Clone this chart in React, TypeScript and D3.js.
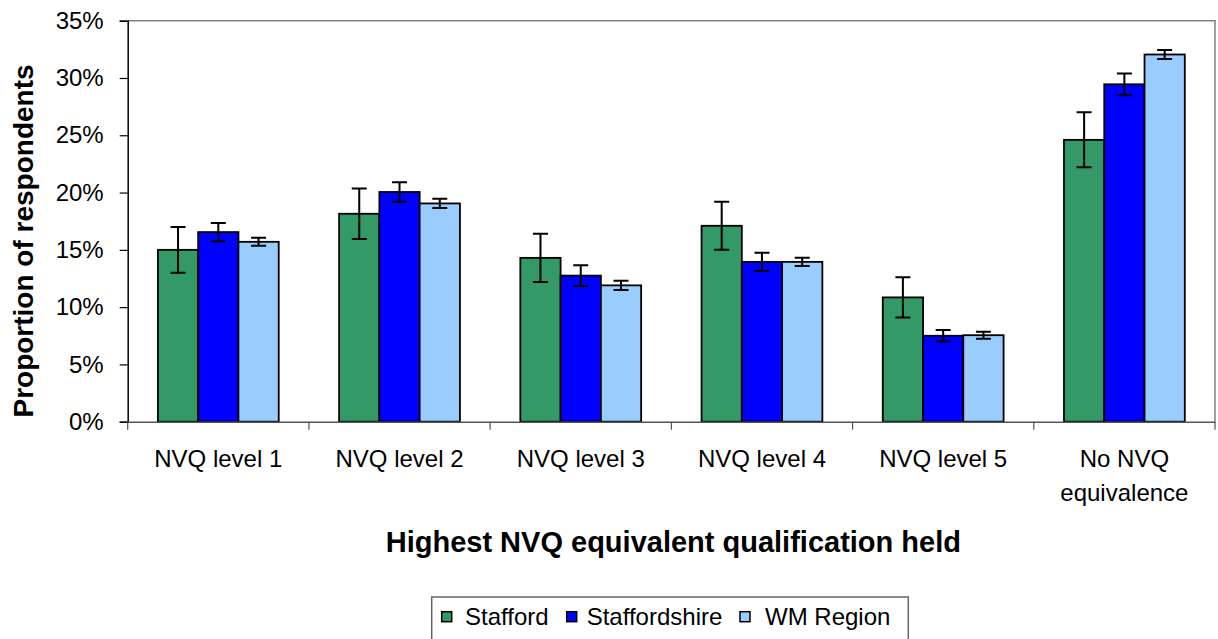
import { useEffect, useRef } from "react";
import * as d3 from "d3";

const categories = ["NVQ level 1", "NVQ level 2", "NVQ level 3", "NVQ level 4", "NVQ level 5", "No NVQ|equivalence"];
const seriesNames = ["Stafford", "Staffordshire", "WM Region"];
const seriesColors = ["#339966", "#0000FF", "#99CCFF"];

const stafford = [15.0, 18.15, 14.3, 17.1, 10.85, 24.6];
const staffordshire = [16.55, 20.05, 12.75, 13.95, 7.5, 29.45];
const wmRegion = [15.7, 19.05, 11.9, 13.95, 7.55, 32.05];

const staffordErr = [2.0, 2.2, 2.1, 2.1, 1.75, 2.4];
const staffordshireErr = [0.8, 0.85, 0.9, 0.8, 0.5, 0.95];
const wmRegionErr = [0.35, 0.4, 0.4, 0.35, 0.3, 0.4];

const yTicks = [0, 5, 10, 15, 20, 25, 30, 35];

const values = [stafford, staffordshire, wmRegion];
const errors = [staffordErr, staffordshireErr, wmRegionErr];

export default function App() {
  const ref = useRef<SVGSVGElement>(null);

  useEffect(() => {
    const svg = d3.select(ref.current);
    svg.selectAll("*").remove();

    const left = 127.7, right = 1215, top = 20.7, bottom = 421.7;
    const font = "Arial, 'Liberation Sans', sans-serif";

    const y = d3.scaleLinear().domain([0, 35]).range([bottom, top]);
    const x0 = d3.scaleBand().domain(categories).range([left, right]).padding(0);
    const bw = x0.bandwidth() / 4.5;
    const x1 = d3.scaleBand().domain(seriesNames).range([0, bw * 3]).padding(0);

    // plot border (top / right)
    svg.append("path")
      .attr("d", `M${left},${top}H${right}V${bottom}`)
      .attr("fill", "none")
      .attr("stroke", "#808080")
      .attr("stroke-width", 1.5);

    // bars
    const data = categories.flatMap((c, ci) =>
      seriesNames.map((s, si) => ({ c, s, si, v: values[si][ci], e: errors[si][ci] }))
    );

    svg.append("g").selectAll("rect")
      .data(data)
      .join("rect")
      .attr("x", d => x0(d.c)! + bw * 0.75 + x1(d.s)!)
      .attr("y", d => y(d.v))
      .attr("width", x1.bandwidth())
      .attr("height", d => y(0) - y(d.v))
      .attr("fill", d => seriesColors[d.si])
      .attr("stroke", "#000")
      .attr("stroke-width", 1.8);

    // error bars
    const cap = 7.5;
    const eb = svg.append("g").attr("stroke", "#000").attr("stroke-width", 2).attr("fill", "none");
    data.forEach(d => {
      const cx = x0(d.c)! + bw * 0.75 + x1(d.s)! + x1.bandwidth() / 2;
      const y1 = y(d.v + d.e), y2 = y(d.v - d.e);
      eb.append("path").attr("d", `M${cx},${y1}V${y2}M${cx - cap},${y1}H${cx + cap}M${cx - cap},${y2}H${cx + cap}`);
    });

    // y axis
    const ya = svg.append("g").attr("transform", `translate(${left},0)`)
      .call(d3.axisLeft(y).tickValues(yTicks).tickSize(8).tickPadding(16).tickFormat(d => `${d}%`));
    ya.select(".domain").attr("stroke", "#000").attr("stroke-width", 1.5);
    ya.selectAll(".tick line").attr("stroke", "#000").attr("stroke-width", 1.2);
    ya.selectAll("text").attr("font-family", font).attr("font-size", 24).attr("fill", "#000");

    // x axis
    const xa = svg.append("g").attr("transform", `translate(0,${bottom})`)
      .call(d3.axisBottom(x0).tickSize(0).tickFormat(() => ""));
    xa.select(".domain").attr("stroke", "#555").attr("stroke-width", 1.5);
    svg.append("g").selectAll("line")
      .data([...categories.map(c => x0(c)!), right])
      .join("line")
      .attr("x1", d => d).attr("x2", d => d)
      .attr("y1", bottom).attr("y2", bottom + 8)
      .attr("stroke", "#555").attr("stroke-width", 1.2);

    svg.append("g").selectAll("text")
      .data(categories)
      .join("text")
      .attr("x", d => x0(d)! + x0.bandwidth() / 2)
      .attr("y", 466.7)
      .attr("text-anchor", "middle")
      .attr("font-family", font)
      .attr("font-size", 24)
      .each(function (d) {
        const t = d3.select(this);
        d.split("|").forEach((line, i) => {
          t.append("tspan").attr("x", x0(d)! + x0.bandwidth() / 2).attr("dy", i === 0 ? 0 : 34).text(line);
        });
      });

    // axis titles
    svg.append("text")
      .attr("x", (left + right) / 2 + 2)
      .attr("y", 551.7)
      .attr("text-anchor", "middle")
      .attr("font-family", font)
      .attr("font-weight", "bold")
      .attr("font-size", 29)
      .text("Highest NVQ equivalent qualification held");

    svg.append("text")
      .attr("transform", `translate(33,241) rotate(-90)`)
      .attr("text-anchor", "middle")
      .attr("font-family", font)
      .attr("font-weight", "bold")
      .attr("font-size", 28)
      .text("Proportion of respondents");

    // legend
    const lg = svg.append("g");
    lg.append("rect")
      .attr("x", 431.7).attr("y", 597).attr("width", 476.6).attr("height", 50)
      .attr("fill", "#fff").attr("stroke", "#666").attr("stroke-width", 1.5);
    const swatchX = [441.7, 566.7, 740];
    const textX = [465, 586.7, 765];
    seriesNames.forEach((s, i) => {
      lg.append("rect")
        .attr("x", swatchX[i]).attr("y", 611.7).attr("width", 10).attr("height", 10)
        .attr("fill", seriesColors[i]).attr("stroke", "#000").attr("stroke-width", 1.5);
      lg.append("text")
        .attr("x", textX[i]).attr("y", 625)
        .attr("font-family", font).attr("font-size", 24)
        .text(s);
    });
  }, []);

  return (
    <svg ref={ref} width={1218} height={639}
      style={{ position: "absolute", left: 0, top: 0, background: "#fff" }} />
  );
}
